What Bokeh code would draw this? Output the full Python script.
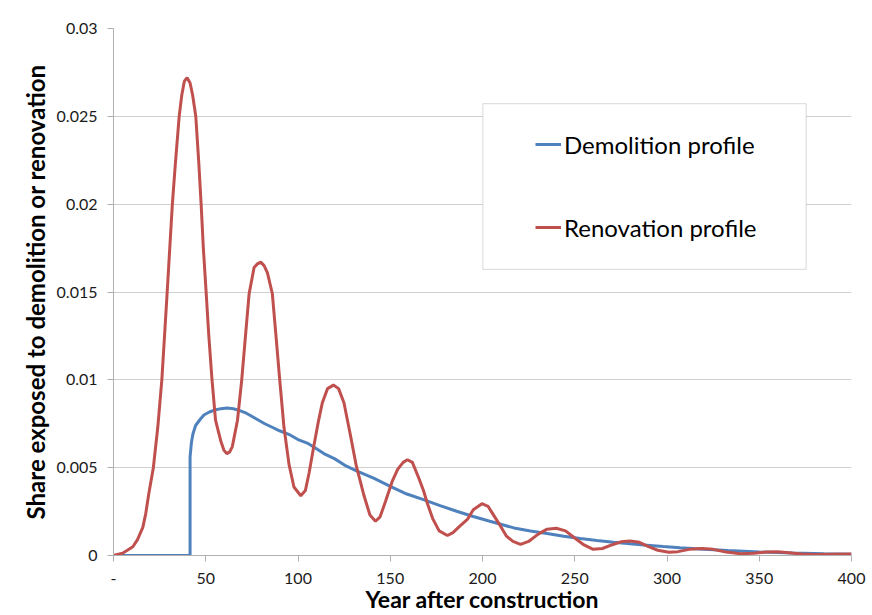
from bokeh.plotting import figure
from bokeh.models import (Range1d, FixedTicker, NumeralTickFormatter, Legend, LegendItem,
                          BoxAnnotation)
from bokeh.embed import file_html
from bokeh.resources import INLINE

# ---- data ----
demolition_year = [0, 41.5, 41.5, 42.2, 43, 44.5, 46.6, 49, 52, 55.4, 58.3, 61.4, 65, 68.1, 72,
                   77, 82, 86, 90, 95, 100, 105, 109.6, 114, 120, 126, 132, 141, 150, 159, 168,
                   177, 186, 195, 204, 217, 226, 235, 244, 253, 262, 271, 280, 289, 298, 307,
                   320, 333, 350, 368, 385, 400]
demolition_share = [0, 0, 0.0056, 0.0064, 0.0069, 0.0074, 0.0077, 0.0080, 0.00817, 0.0083,
                    0.00836, 0.0084, 0.00835, 0.00826, 0.0081, 0.0078, 0.0075, 0.0073, 0.0071,
                    0.0069, 0.0066, 0.0064, 0.0061, 0.0058, 0.0055, 0.0051, 0.0048, 0.0044,
                    0.00394, 0.0035, 0.00318, 0.00284, 0.00252, 0.00222, 0.00195, 0.00157,
                    0.0014, 0.00125, 0.0011, 0.00097, 0.00086, 0.00076, 0.00067, 0.00059,
                    0.00051, 0.00044, 0.00035, 0.00028, 0.0002, 0.00014, 0.0001, 0.00007]

renovation_year = [0, 4.9, 7.5, 10.5, 13, 15.9, 17.5, 19.1, 21.6, 24, 26.2, 27.6, 29.1, 30.5,
                   31.9, 33.6, 35.6, 37, 38.4, 39.9, 41.5, 42.9, 44.6, 46.2, 47.5, 48.7, 50.2,
                   51.6, 53.4, 55.3, 58.2, 59.8, 61.4, 63, 64.4, 67.2, 69.5, 71.7, 73.5, 76.2,
                   78, 79.8, 81.6, 83.4, 86.1, 87.9, 90.1, 92.4, 95.1, 97.8, 101.5, 104, 106,
                   108.7, 111, 113.2, 116, 119.2, 122, 124.9, 128.5, 131.6, 135.8, 139, 142,
                   144.5, 147.5, 151, 154, 157, 159.3, 162, 165.5, 168, 170, 173, 176.5, 181,
                   184, 188, 191.8, 195, 199.7, 203, 206, 209.8, 213, 216.5, 220.6, 225, 230,
                   235, 240, 245, 250, 255, 260, 265, 270, 275, 280, 285, 290, 295, 301, 306,
                   312, 319, 325, 332, 340, 347, 354, 360, 366, 373, 380, 390, 400]
renovation_share = [0, 0.00013, 0.0003, 0.0005, 0.0009, 0.0016, 0.0024, 0.0035, 0.0050, 0.0073,
                    0.0100, 0.0124, 0.0150, 0.0175, 0.0200, 0.0224, 0.0250, 0.0262, 0.0270,
                    0.0272, 0.0269, 0.0262, 0.0250, 0.0224, 0.0200, 0.0175, 0.0150, 0.0126,
                    0.0100, 0.0077, 0.0065, 0.0060, 0.0058, 0.0059, 0.0062, 0.0077, 0.0100,
                    0.0127, 0.0149, 0.0164, 0.0166, 0.0167, 0.0165, 0.0161, 0.0149, 0.0127,
                    0.0100, 0.0073, 0.0052, 0.0039, 0.0034, 0.0037, 0.0047, 0.0063, 0.0076,
                    0.0087, 0.0095, 0.0097, 0.0095, 0.0087, 0.0068, 0.0051, 0.0034, 0.0023,
                    0.00195, 0.0022, 0.0031, 0.0042, 0.0049, 0.0053, 0.00545, 0.0053, 0.0044,
                    0.0037, 0.0030, 0.0021, 0.0014, 0.00114, 0.0013, 0.0017, 0.00205, 0.0026,
                    0.00295, 0.0028, 0.0023, 0.00167, 0.0011, 0.0008, 0.00063, 0.0008, 0.0012,
                    0.0015, 0.00155, 0.0014, 0.0010, 0.0006, 0.00035, 0.0004, 0.0006, 0.00078,
                    0.00083, 0.00075, 0.0005, 0.0003, 0.00018, 0.00022, 0.00035, 0.0004,
                    0.00035, 0.0002, 0.0001, 0.00013, 0.0002, 0.00022, 0.00016, 0.00008,
                    0.00006, 0.00007, 0.00008]

x_ticks = [0, 50, 100, 150, 200, 250, 300, 350, 400]
y_ticks = [0, 0.005, 0.01, 0.015, 0.02, 0.025, 0.03]
series_names = ["Demolition profile", "Renovation profile"]
x_title = "Year after construction"
y_title = "Share exposed to demolition or renovation"

FONT = "Lato"
BLUE = "#4F81BD"
RED = "#C0504D"

p = figure(width=872, height=615, output_backend="svg", toolbar_location=None,
           x_range=Range1d(0, 400), y_range=Range1d(0, 0.03),
           min_border_left=113, min_border_right=21, min_border_top=28, min_border_bottom=59)
p.outline_line_color = None
p.background_fill_color = "white"
p.border_fill_color = "white"

p.xgrid.grid_line_color = None
p.ygrid.grid_line_color = "#D0D0D0"
p.ygrid.grid_line_width = 1

p.xaxis.ticker = FixedTicker(ticks=x_ticks)
p.yaxis.ticker = FixedTicker(ticks=y_ticks)
p.xaxis.major_label_overrides = {0: "-"}
p.yaxis.formatter = NumeralTickFormatter(format="0.[000]")
for ax in (p.xaxis[0], p.yaxis[0]):
    ax.axis_line_color = "#B0B0B0"
    ax.major_tick_line_color = "#B0B0B0"
    ax.major_tick_out = 6
    ax.major_tick_in = 0
    ax.minor_tick_line_color = None
    ax.major_label_text_font = FONT
    ax.major_label_text_font_size = "16px"
    ax.major_label_text_color = "#1A1A1A"
    ax.axis_label_text_font = FONT
    ax.axis_label_text_font_style = "bold"
    ax.axis_label_text_color = "black"
p.xaxis.major_label_standoff = 11
p.yaxis.major_label_standoff = 10

p.yaxis.axis_label = y_title
p.yaxis.axis_label_text_font_size = "24px"
p.yaxis.axis_label_standoff = 4

p.xaxis.axis_label = x_title
p.xaxis.axis_label_text_font_size = "23px"
p.xaxis.axis_label_standoff = -2

r_dem = p.line(demolition_year, demolition_share, line_color=BLUE, line_width=3)
r_ren = p.line(renovation_year, renovation_share, line_color=RED, line_width=3)

# legend frame
box = BoxAnnotation(left=200.2, right=375.4, bottom=0.01629, top=0.02572,
                    fill_color="white", fill_alpha=1.0, line_color="#808080", line_width=1)
p.add_layout(box)

legend = Legend(items=[LegendItem(label=series_names[0], renderers=[r_dem]),
                       LegendItem(label=series_names[1], renderers=[r_ren])],
                location=(412, 298), padding=10, spacing=43, label_height=40, glyph_height=40,
                glyph_width=26, label_standoff=3, border_line_alpha=0, background_fill_alpha=0,
                label_text_font=FONT, label_text_font_size="24px", label_text_color="black")
p.add_layout(legend)

open("out.html", "w").write(file_html(p, INLINE))
